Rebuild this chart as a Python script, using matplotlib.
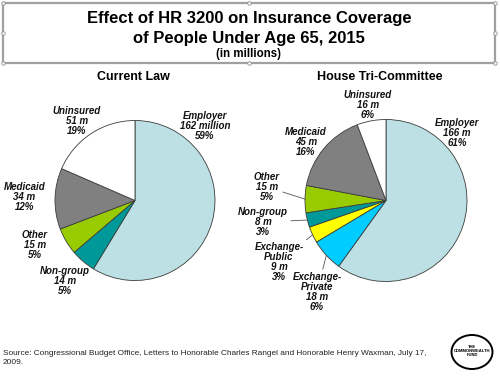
import numpy as np
import matplotlib.pyplot as plt
from matplotlib.patches import Rectangle, Ellipse

plt.rcParams['font.family'] = ['Liberation Sans', 'DejaVu Sans']

# Current law (millions)
cur_labels = ["Employer\n162 million\n59%", "Non-group\n14 m\n5%", "Other\n15 m\n5%",
              "Medicaid\n34 m\n12%", "Uninsured\n51 m\n19%"]
cur_values = [162, 14, 15, 34, 51]
cur_colors = ["#bce0e3", "#009999", "#99cc00", "#808080", "#ffffff"]

# House Tri-Committee (millions)
tri_labels = ["Employer\n166 m\n61%", "Exchange-\nPrivate\n18 m\n6%", "Exchange-\nPublic\n9 m\n3%",
              "Non-group\n8 m\n3%", "Other\n15 m\n5%", "Medicaid\n45 m\n16%", "Uninsured\n16 m\n6%"]
tri_values = [166, 18, 9, 8, 15, 45, 16]
tri_colors = ["#bce0e3", "#00ccff", "#ffff00", "#009999", "#99cc00", "#808080", "#ffffff"]

H = 376


def top(y):
    return H - y


fig = plt.figure(figsize=(5, 3.76), dpi=100)
ax = fig.add_axes([0, 0, 1, 1])

wp = dict(edgecolor="#3c3c3c", linewidth=0.6)
ax.pie(cur_values, colors=cur_colors, startangle=90, counterclock=False,
       center=(135, top(200.5)), radius=80, wedgeprops=wp)
tri_wedges, _ = ax.pie(tri_values, colors=tri_colors, startangle=90, counterclock=False,
                       center=(386, top(200.5)), radius=81, wedgeprops=wp)

ax.set_xlim(0, 500)
ax.set_ylim(0, H)
ax.set_aspect("equal")
ax.axis("off")

lab = dict(fontsize=7, fontweight="bold", fontstyle="italic", ha="center", va="center",
           linespacing=1.0, color="#111111")

# label placement (pixel coords from top)
cur_pos = [(205, 126), (65, 281), (35, 245), (24.5, 197), (77, 121)]
for t, (x, y) in zip(cur_labels, cur_pos):
    ax.text(x, top(y), t, **lab)

tri_pos = [(457, 133), (317, 292), (279, 262), (263, 222), (267, 187), (306, 142), (368, 105)]
leader = [False, True, True, True, True, False, False]
for w, t, (x, y), ld in zip(tri_wedges, tri_labels, tri_pos, leader):
    if ld:
        a = np.deg2rad((w.theta1 + w.theta2) / 2)
        cx, cy = w.center
        px, py = cx + w.r * np.cos(a), cy + w.r * np.sin(a)
        ax.annotate(t, xy=(px, py), xytext=(x, top(y)),
                    arrowprops=dict(arrowstyle="-", color="#555555", lw=0.6,
                                    shrinkA=0, shrinkB=0), **lab)
    else:
        ax.text(x, top(y), t, **lab)

# subtitles
ax.text(133, top(77), "Current Law", fontsize=9, fontweight="bold", ha="center", va="center")
ax.text(380, top(77), "House Tri-Committee", fontsize=9, fontweight="bold", ha="center", va="center")

# title box
ax.add_patch(Rectangle((3, top(63)), 492, 60, facecolor="white", edgecolor="#a0a0a0", lw=1.6))
hx = [3, 249, 495, 3, 495, 3, 249, 495]
hy = [3, 3, 3, 33, 33, 63, 63, 63]
ax.plot(hx, [top(v) for v in hy], "o", ms=2.5, mfc="white", mec="#909090", mew=0.6, ls="none")
ax.text(249, top(18), "Effect of HR 3200 on Insurance Coverage", fontsize=12,
        fontweight="bold", ha="center", va="center")
ax.text(249, top(38), "of People Under Age 65, 2015", fontsize=12,
        fontweight="bold", ha="center", va="center")
ax.text(249, top(54), "(in millions)", fontsize=8.3, fontweight="bold", ha="center", va="center")

# source
ax.text(3, top(358), "Source: Congressional Budget Office, Letters to Honorable Charles Rangel "
        "and Honorable Henry Waxman, July 17,\n2009.", fontsize=5.97, ha="left", va="center",
        linespacing=1.3, color="#222222")

# logo
ax.add_patch(Ellipse((472, top(352)), 41, 34, facecolor="white", edgecolor="black", lw=1.4))
ax.text(472, top(351), "THE\nCOMMONWEALTH\nFUND", fontsize=3.0, fontweight="bold",
        ha="center", va="center", linespacing=1.1)

fig.savefig("out.png", dpi=100)
